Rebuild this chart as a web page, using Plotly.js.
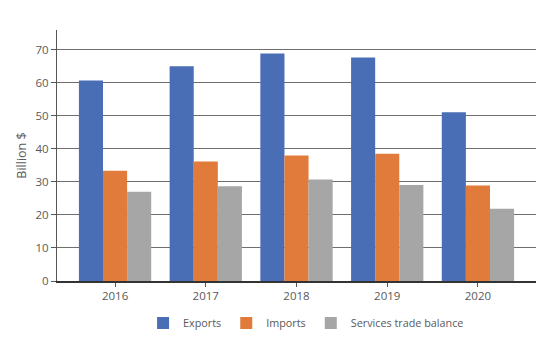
<!DOCTYPE html>
<html><head><meta charset="utf-8">
<script src="https://cdn.plot.ly/plotly-3.0.1.min.js"></script>
<style>html,body{margin:0;padding:0;background:#fff;}#chart{width:555px;height:360px;}</style>
</head><body><div id="chart"></div>
<script>
var years = ["2016","2017","2018","2019","2020"];
var exportsVals = [60.7, 65.0, 68.9, 67.7, 51.1];
var importsVals = [33.4, 36.2, 38.0, 38.5, 28.9];
var servicesVals = [27.0, 28.7, 30.7, 29.1, 21.9];
var yTicks = [0,10,20,30,40,50,60,70];

var font = {family: "Open Sans, Noto Sans, sans-serif", size: 11.5, color: "#595959"};
var data = [
  {type:"bar", name:"Exports", x:years, y:exportsVals, marker:{color:"#4A6EB5"}},
  {type:"bar", name:"Imports", x:years, y:importsVals, marker:{color:"#E07B3C"}},
  {type:"bar", name:"Services trade balance", x:years, y:servicesVals, marker:{color:"#A6A6A6"}}
];
var layout = {
  width:555, height:360,
  margin:{l:57, r:19, t:30, b:79},
  paper_bgcolor:"#fff", plot_bgcolor:"#fff",
  font: font,
  barmode:"group", bargap:0.203, bargroupgap:0,
  showlegend:true,
  legend:{orientation:"h", x:0.52, xanchor:"center", y:-0.167, yanchor:"middle",
          font:{family:font.family, size:10.8, color:"#595959"}, itemwidth:30, traceorder:"normal"},
  xaxis:{type:"category", range:[-0.64, 4.64], showgrid:false, showline:true, linecolor:"#333", linewidth:1.5,
         ticks:"outside", ticklen:4, tickcolor:"#555", tickfont:font, zeroline:false},
  yaxis:{range:[0,76], tickvals:yTicks, showgrid:true, gridcolor:"#6e6e6e", gridwidth:1,
         showline:true, linecolor:"#555", linewidth:1, ticks:"outside", ticklen:5, tickcolor:"#555",
         tickfont:font, zeroline:false,
         title:{text:"Billion $", font:{family:font.family, size:12.5, color:"#595959"}, standoff:6}}
};
Plotly.newPlot("chart", data, layout, {displayModeBar:false, staticPlot:true});
</script></body></html>
